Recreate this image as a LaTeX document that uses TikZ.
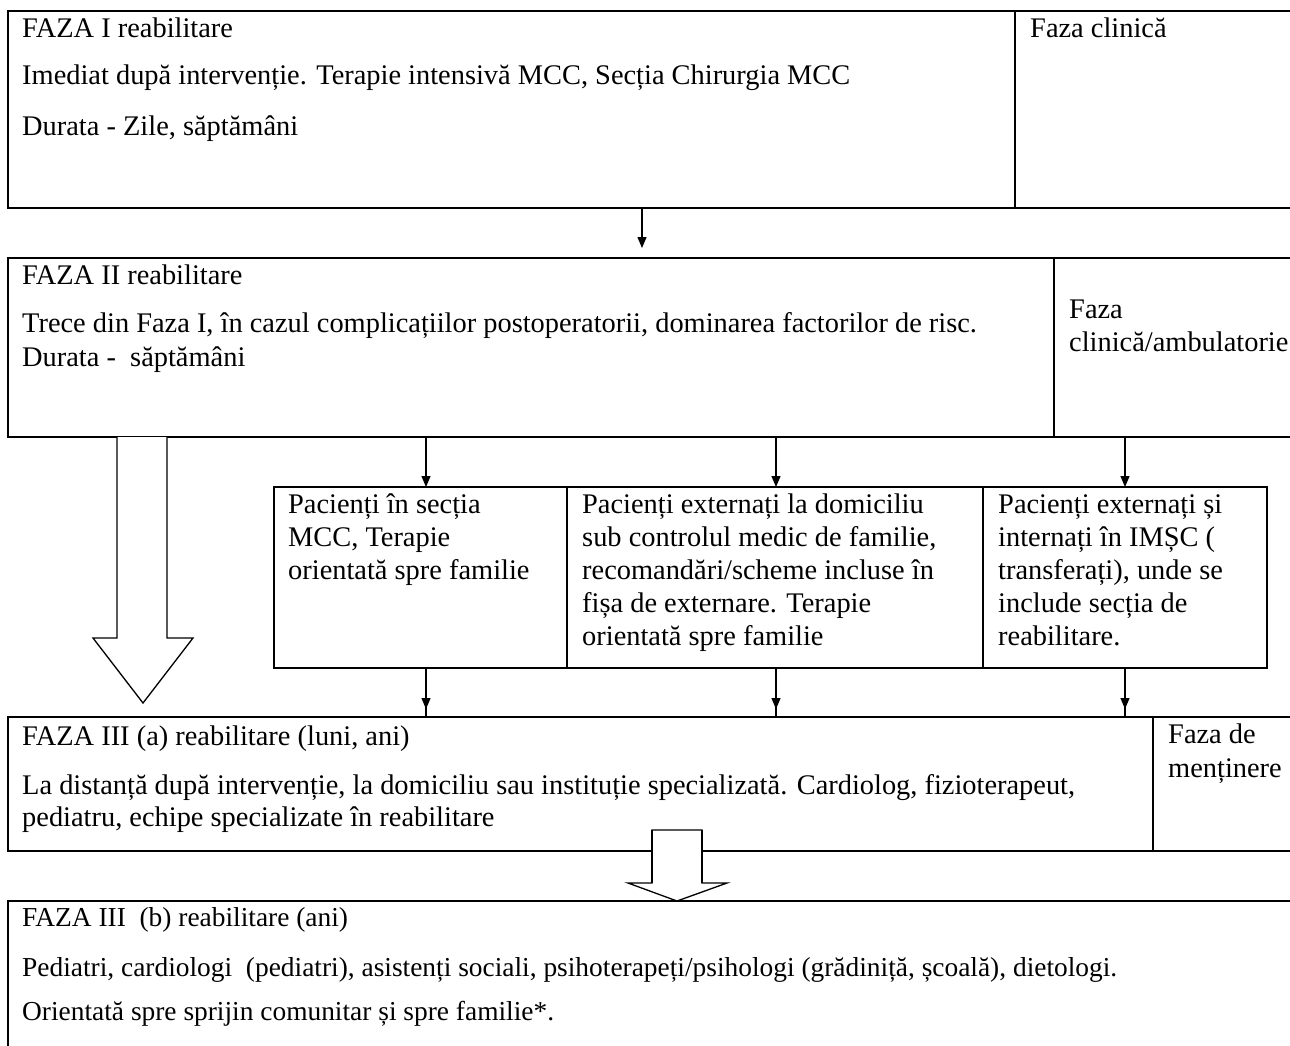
\documentclass[tikz,border=0pt]{standalone}
\usepackage{fontspec}
\setmainfont{Liberation Serif}
\usetikzlibrary{arrows.meta}
\newcommand{\fsz}{\fontsize{28.4}{33}\selectfont}
\newcommand{\fszb}{\fontsize{27.4}{33}\selectfont}
\begin{document}
\begin{tikzpicture}[x=1pt,y=-1pt,
  cell/.style={draw, line width=1.3pt, anchor=north west, inner sep=0pt, outer sep=0pt},
  txt/.style={anchor=base west, inner sep=0pt, font=\fsz},
  txtb/.style={anchor=base west, inner sep=0pt, font=\fszb},
  arr/.style={line width=1.2pt, -{Triangle[width=9pt,length=11pt]}},
  block/.style={draw, line width=1.3pt, fill=white, line join=miter}]
\useasboundingbox (0,0) rectangle (1290,1045);
% boxes
\node[cell, minimum width=1007pt, minimum height=197pt] (c1a) at (8,11) {};
\node[cell, minimum width=280pt, minimum height=197pt] (c1b) at (1015,11) {};
\node[cell, minimum width=1046pt, minimum height=179pt] (c2a) at (8,258) {};
\node[cell, minimum width=241pt, minimum height=179pt] (c2b) at (1054,258) {};
\node[cell, minimum width=293pt, minimum height=181pt] (m1) at (274,487) {};
\node[cell, minimum width=416pt, minimum height=181pt] (m2) at (567,487) {};
\node[cell, minimum width=284pt, minimum height=181pt] (m3) at (983,487) {};
\node[cell, minimum width=1145pt, minimum height=134pt] (c3a) at (8,717) {};
\node[cell, minimum width=142pt, minimum height=134pt] (c3b) at (1153,717) {};
\node[cell, minimum width=1287pt, minimum height=160pt] (c4) at (8,901) {};
% texts
\node[txt] (t1) at (22,37) {FAZA I reabilitare};
\node[txt] (t2) at (22,84) {Imediat după intervenție. Terapie intensivă MCC, Secția Chirurgia MCC};
\node[txt] (t3) at (22,135) {Durata - Zile, săptămâni};
\node[txt] (t4) at (1030,37) {Faza clinică};
\node[txt] (t5) at (22,284) {FAZA II reabilitare};
\node[txt] (t6) at (22,332) {Trece din Faza I, în cazul complicațiilor postoperatorii, dominarea factorilor de risc.};
\node[txt] (t7) at (22,366) {Durata - \ săptămâni};
\node[txt] (t8) at (1069,318) {\parbox[t]{240pt}{\fsz Faza\\clinică/ambulatorie}};
\node[txt] (t9) at (288,513) {\parbox[t]{280pt}{\fsz Pacienți în secția\\MCC, Terapie\\orientată spre familie}};
\node[txt] (t10) at (582,513) {\parbox[t]{400pt}{\fsz Pacienți externați la domiciliu\\sub controlul medic de familie,\\recomandări/scheme incluse în\\fișa de externare. Terapie\\orientată spre familie}};
\node[txt] (t11) at (998,513) {\parbox[t]{280pt}{\fsz Pacienți externați și\\internați în IMȘC (\\transferați), unde se\\include secția de\\reabilitare.}};
\node[txt] (t12) at (22,745) {FAZA III (a) reabilitare (luni, ani)};
\node[txt] (t13) at (22,794) {La distanță după intervenție, la domiciliu sau instituție specializată. Cardiolog, fizioterapeut,};
\node[txt] (t14) at (22,826) {pediatru, echipe specializate în reabilitare};
\node[txt] (t15) at (1168,743) {\parbox[t]{140pt}{\fontsize{28.4}{34}\selectfont Faza de\\menținere}};
\node[txtb] (t16) at (22,926) {FAZA III \ (b) reabilitare (ani)};
\node[txtb] (t17) at (22,976) {Pediatri, cardiologi \ (pediatri), asistenți sociali, psihoterapeți/psihologi (grădiniță, școală), dietologi.};
\node[txtb] (t18) at (22,1020) {Orientată spre sprijin comunitar și spre familie*.};
% arrow x positions
\coordinate (x0) at (642,0);
\coordinate (x1) at (426,0);
\coordinate (x2) at (776,0);
\coordinate (x3) at (1125,0);
\draw[arr, shorten >=10pt] (x0 |- c1a.south) -- (x0 |- c2a.north);
\draw[arr] (x1 |- c2a.south) -- (x1 |- m1.north);
\draw[arr] (x2 |- c2a.south) -- (x2 |- m2.north);
\draw[arr] (x3 |- c2a.south) -- (x3 |- m3.north);
\draw[arr, shorten >=8pt] (x1 |- m1.south) -- (x1 |- c3a.north);
\draw[arr, shorten >=8pt] (x2 |- m2.south) -- (x2 |- c3a.north);
\draw[arr, shorten >=8pt] (x3 |- m3.south) -- (x3 |- c3a.north);
\draw[line width=1.2pt] (x1 |- m1.south) -- (x1 |- c3a.north);
\draw[line width=1.2pt] (x2 |- m2.south) -- (x2 |- c3a.north);
\draw[line width=1.2pt] (x3 |- m3.south) -- (x3 |- c3a.north);
% block arrows
\draw[block] (117,437) -- (117,638) -- (93,638) -- (143,703) -- (193,638) -- (167,638) -- (167,437);
\draw[block] (652,851) -- (652,830) -- (702,830) -- (702,883) -- (727,883) -- (677,901) -- (628,883) -- (652,883) -- cycle;
\fill[white] (653.5,849) rectangle (700.5,853);
\draw[line width=1.3pt] (652,830) -- (652,883) (702,830) -- (702,883);
\end{tikzpicture}
\end{document}
